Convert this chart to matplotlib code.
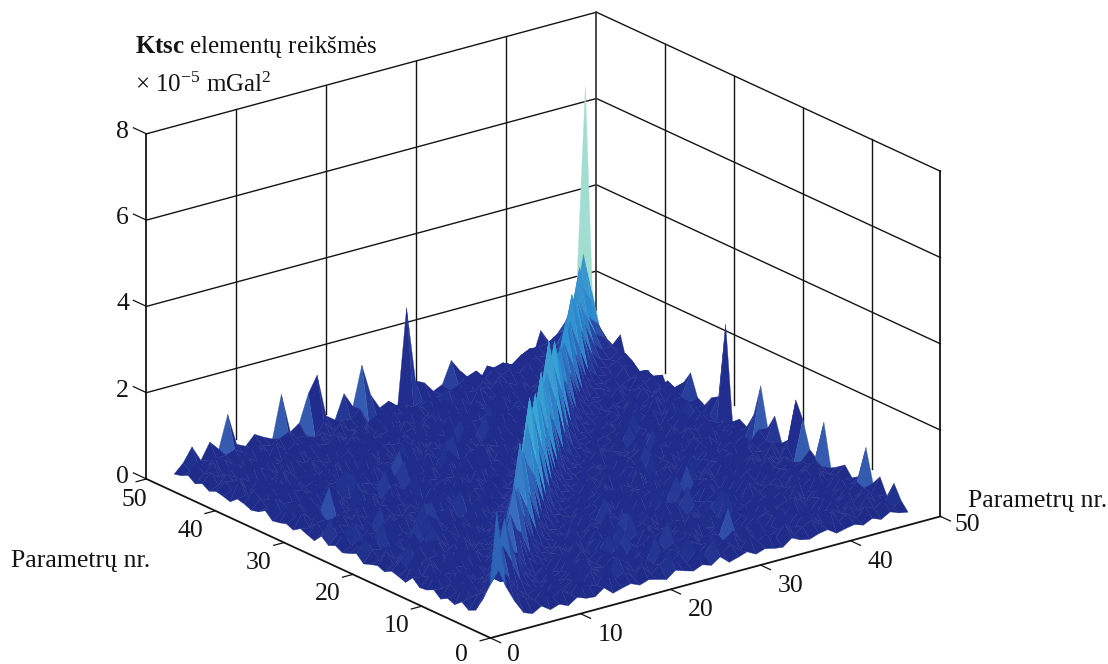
#!/usr/bin/env python3
import matplotlib
matplotlib.use("Agg")
import matplotlib.pyplot as plt
import numpy as np
from matplotlib.colors import LinearSegmentedColormap, Normalize, to_rgba
from mpl_toolkits.mplot3d import proj3d

plt.rcParams["font.family"] = ["Liberation Serif", "DejaVu Serif"]
plt.rcParams["mathtext.fontset"] = "custom"
plt.rcParams["mathtext.rm"] = "Liberation Serif"
plt.rcParams["mathtext.bf"] = "Liberation Serif:bold"
plt.rcParams["mathtext.default"] = "regular"

FIG_W, FIG_H = 1108, 664
INK = "#151314"
TICK_SIZE = 18.5

floor_ticks = [0, 10, 20, 30, 40, 50]
z_ticks = [0, 2, 4, 6, 8]
axis_label = "Parametrų nr."

# values, in 1e-7 mGal^2 (hundredths of the z axis)
ktsc_diag = [290, 140, 100, 170, 220, 130, 110, 190, 150, 230, 170, 200, 290, 180, 240, 210,
             280, 330, 220, 270, 300, 230, 260, 310, 240, 210, 270, 330, 220, 250, 290, 200,
             190, 240, 180, 220, 260, 190, 230, 280, 210, 250, 230, 290, 240, 300, 670]
ktsc_back_edge = [30, 50, 82, 45, 82, 60, 135, 60, 50, 72, 60, 50, 148, 55, 70, 132,
                  170, 70, 55, 110, 75, 165, 90, 55, 65, 45, 270, 95, 85, 60, 70, 120,
                  90, 45, 50, 85, 60, 80, 50, 60, 70, 133, 100, 110, 130, 200, 670]
ktsc_rows = [
    [110, 70, 38, 30, 42, 28, 35, 26, 40, 32, 30, 45, 27, 33, 38, 29, 36, 31, 25, 41, 34, 28, 37, 30, 44, 26, 32, 39, 28, 35, 30, 27, 43, 33, 29, 36, 40, 26, 31, 35, 28, 38, 30, 42, 34],
    [120, 75, 60, 48, 72, 44, 55, 38, 66, 50, 42, 85, 47, 58, 40, 62, 36, 52, 70, 45, 39, 60, 49, 78, 41, 54, 35, 63, 46, 57, 43, 68, 37, 50, 61, 44, 74, 40, 53, 36, 59, 47, 64, 38],
    [100, 70, 52, 64, 40, 75, 46, 58, 36, 70, 49, 44, 92, 55, 39, 61, 47, 68, 42, 52, 83, 37, 60, 45, 56, 72, 41, 50, 65, 38, 48, 59, 43, 77, 54, 35, 62, 46, 57, 40, 69, 51, 44],
    [130, 80, 58, 46, 66, 38, 55, 80, 43, 62, 48, 37, 70, 52, 60, 41, 95, 46, 56, 39, 64, 50, 74, 44, 36, 58, 68, 42, 53, 47, 86, 40, 61, 35, 55, 49, 72, 43, 59, 38, 65, 52],
    [140, 85, 62, 48, 70, 42, 58, 36, 76, 51, 45, 63, 88, 40, 54, 67, 37, 49, 60, 44, 72, 39, 56, 47, 105, 41, 52, 66, 36, 59, 46, 69, 43, 55, 38, 78, 48, 61, 42, 57, 50],
    [120, 75, 55, 68, 41, 50, 84, 38, 60, 46, 72, 53, 40, 64, 48, 36, 58, 99, 43, 55, 67, 39, 51, 74, 45, 37, 62, 49, 56, 70, 42, 83, 47, 35, 60, 52, 44, 66, 40, 54],
    [110, 70, 50, 62, 44, 74, 39, 56, 48, 66, 36, 58, 90, 43, 52, 69, 41, 47, 60, 38, 78, 50, 45, 63, 37, 55, 72, 42, 49, 58, 36, 67, 46, 53, 84, 40, 57, 44, 61],
    [135, 80, 60, 45, 70, 52, 38, 64, 47, 56, 82, 40, 51, 36, 73, 44, 59, 48, 66, 37, 54, 92, 41, 50, 62, 46, 35, 58, 75, 43, 49, 67, 38, 55, 60, 42, 70, 47],
    [130, 78, 60, 48, 58, 40, 76, 52, 37, 62, 45, 85, 43, 54, 68, 39, 50, 60, 36, 72, 47, 57, 41, 95, 44, 53, 65, 38, 49, 61, 42, 79, 46, 56, 35, 63, 51],
    [155, 90, 60, 52, 62, 44, 80, 39, 57, 48, 68, 36, 90, 46, 55, 40, 74, 50, 42, 63, 37, 59, 86, 45, 52, 66, 38, 48, 71, 43, 56, 60, 35, 77, 47, 54],
    [140, 85, 60, 50, 74, 42, 58, 37, 68, 46, 55, 88, 40, 52, 62, 36, 49, 76, 44, 60, 39, 57, 67, 47, 35, 83, 53, 41, 58, 45, 70, 38, 51, 63, 48],
    [150, 95, 65, 55, 46, 68, 40, 60, 50, 85, 38, 54, 66, 43, 72, 37, 48, 58, 95, 41, 52, 64, 36, 56, 45, 78, 39, 50, 61, 44, 69, 47, 35, 59],
    [170, 100, 65, 60, 48, 72, 44, 58, 38, 66, 52, 92, 40, 55, 46, 70, 36, 62, 50, 43, 84, 47, 57, 37, 65, 53, 41, 74, 45, 60, 39, 51, 68],
    [150, 90, 60, 54, 64, 42, 82, 48, 38, 60, 70, 45, 56, 36, 88, 50, 43, 66, 39, 58, 76, 47, 35, 62, 52, 44, 71, 40, 55, 63, 37, 49],
    [165, 95, 65, 58, 46, 68, 52, 40, 86, 44, 60, 36, 72, 50, 56, 42, 94, 38, 64, 47, 54, 35, 75, 45, 59, 67, 41, 51, 62, 37, 48],
    [170, 105, 70, 62, 50, 74, 42, 56, 66, 38, 80, 47, 53, 60, 36, 70, 44, 98, 40, 57, 49, 63, 35, 77, 52, 43, 68, 46, 58, 39],
    [190, 110, 70, 60, 70, 48, 54, 42, 78, 50, 38, 64, 56, 90, 44, 36, 72, 52, 46, 61, 40, 83, 55, 37, 66, 47, 59, 43, 69],
    [205, 115, 75, 66, 52, 74, 45, 60, 40, 84, 50, 56, 38, 70, 47, 62, 35, 96, 43, 54, 65, 41, 76, 49, 58, 36, 68, 44],
    [165, 100, 70, 58, 68, 44, 52, 72, 40, 60, 48, 88, 37, 55, 64, 42, 74, 46, 35, 57, 67, 50, 39, 80, 53, 45, 61],
    [185, 105, 70, 64, 50, 76, 46, 58, 38, 68, 54, 92, 42, 36, 62, 48, 72, 40, 56, 84, 44, 52, 35, 66, 47, 59],
    [195, 110, 75, 60, 70, 48, 42, 80, 54, 37, 64, 50, 86, 44, 58, 36, 74, 46, 62, 40, 55, 68, 38, 51, 77],
    [175, 105, 70, 66, 50, 58, 44, 74, 40, 60, 48, 98, 36, 56, 64, 42, 70, 46, 52, 35, 82, 45, 61, 38],
    [180, 110, 75, 62, 72, 46, 54, 40, 80, 50, 37, 66, 58, 44, 88, 42, 35, 60, 68, 47, 53, 75, 41],
    [200, 115, 70, 68, 52, 60, 44, 78, 38, 56, 70, 46, 94, 40, 50, 36, 64, 54, 84, 43, 59, 47],
    [170, 100, 70, 60, 72, 48, 40, 66, 52, 58, 90, 37, 62, 45, 76, 44, 55, 35, 68, 50, 63],
    [165, 100, 75, 64, 50, 78, 42, 56, 46, 70, 38, 84, 60, 48, 36, 66, 54, 72, 44, 58],
    [205, 120, 80, 70, 54, 62, 46, 82, 40, 58, 50, 100, 37, 66, 44, 74, 52, 60, 48],
    [210, 125, 80, 66, 76, 50, 58, 42, 88, 46, 62, 36, 72, 54, 80, 44, 68, 56],
    [175, 105, 70, 72, 54, 64, 46, 80, 40, 60, 96, 48, 56, 70, 38, 66, 52],
    [185, 110, 75, 68, 78, 50, 58, 44, 86, 54, 62, 40, 74, 47, 82, 60],
    [190, 115, 85, 74, 56, 66, 48, 84, 42, 60, 70, 52, 92, 46, 64],
    [160, 105, 75, 70, 80, 54, 60, 46, 74, 50, 88, 58, 66, 72],
    [160, 100, 80, 72, 58, 68, 48, 82, 52, 62, 76, 56, 84],
    [170, 110, 85, 78, 60, 70, 54, 88, 50, 66, 74, 92],
    [155, 105, 80, 74, 86, 58, 64, 52, 80, 62, 70],
    [165, 105, 78, 72, 60, 84, 56, 68, 78, 88],
    [175, 110, 85, 80, 66, 74, 58, 86, 94],
    [160, 105, 85, 78, 90, 64, 72, 84],
    [170, 110, 90, 84, 70, 92, 100],
    [190, 120, 95, 88, 98, 110],
    [175, 120, 100, 94, 108],
    [180, 130, 110, 112],
    [185, 140, 125],
    [170, 150],
    [200],
]


def build_matrix() -> np.ndarray:
    n = len(ktsc_diag)
    upper = np.zeros((n, n))
    for i, row in enumerate(ktsc_rows):
        upper[i, i + 1 : i + 1 + len(row)] = row
    upper[:, -1] = ktsc_back_edge
    upper[-1, -1] = 0
    return (upper + upper.T + np.diag(ktsc_diag)) / 100.0


def face_colors(Z: np.ndarray) -> np.ndarray:
    cmap = LinearSegmentedColormap.from_list(
        "ktsc",
        [(0.0, "#1d2a86"), (0.32, "#212e8f"), (0.41, "#2c55ae"), (0.52, "#2b8ccf"),
         (0.7, "#3fb6d8"), (0.88, "#8fd8cc"), (1.0, "#bfe6d6")],
    )
    mean_z = (Z[:-1, :-1] + Z[1:, :-1] + Z[:-1, 1:] + Z[1:, 1:]) / 4
    colors = cmap(Normalize(0, 3.7)(mean_z))
    # small facets turned to the viewer look paler in the reference
    rise = Z[1:, 1:] - Z[:-1, :-1]
    lit = np.clip((rise - 0.4) / 0.6, 0, 0.65) * (rise < 1.0)
    return colors * (1 - lit[..., None]) + np.array(to_rgba("#3f74c2")) * lit[..., None]


def to_px(ax, x, y, z):
    xs, ys, _ = proj3d.proj_transform(x, y, z, ax.get_proj())
    return ax.transData.transform((xs, ys))


def fit_axes(ax) -> None:
    # scale and shift the box so its floor corners land where the reference has them
    aspect = (566.5, 566.5, 369)
    ax.set_box_aspect(aspect, zoom=1)
    ax.apply_aspect()
    width = to_px(ax, 50, 0, 0)[0] - to_px(ax, 0, 50, 0)[0]
    ax.set_box_aspect(aspect, zoom=794 / width)
    ax.apply_aspect()
    front = to_px(ax, 0, 0, 0)
    pos = ax.get_position()
    ax.set_position([pos.x0 + (490.5 - front[0]) / FIG_W, pos.y0 + (26 - front[1]) / FIG_H, pos.width, pos.height])
    ax.apply_aspect()


def label_at(ax, text, x, y, z, dx, dy) -> None:
    xs, ys, _ = proj3d.proj_transform(x, y, z, ax.get_proj())
    ax.annotate(text, (xs, ys), xytext=(dx, -dy), textcoords="offset pixels", ha="center", va="center",
                fontsize=TICK_SIZE, color=INK, annotation_clip=False)


def main() -> None:
    fig = plt.figure(figsize=(FIG_W / 100, FIG_H / 100), dpi=100)
    ax = fig.add_axes([-0.1, -0.5, 1.2, 2.0], projection="3d", computed_zorder=False)
    ax.set_proj_type("ortho")
    ax.view_init(elev=20.7, azim=-127.4)
    ax.set_xlim(0, 50)
    ax.set_ylim(0, 50)
    ax.set_zlim(0, 8)
    ax.set_axis_off()
    ax.patch.set_alpha(0)
    fit_axes(ax)

    # back walls
    wall = dict(color=INK, linewidth=1.0, zorder=1)
    for z in z_ticks[1:]:
        ax.plot([0, 50, 50], [50, 50, 0], [z, z, z], **wall)
    for t in floor_ticks[1:-1]:
        ax.plot([t, t], [50, 50], [0.37, 8], **wall)
        ax.plot([50, 50], [t, t], [0.37, 8], **wall)
    ax.plot([50, 50], [50, 50], [1.1, 8], color="#3a3a3a", linewidth=1.3, zorder=1)

    # surface
    Z = build_matrix()
    X, Y = np.meshgrid(np.linspace(0.7, 46.4, Z.shape[1]), np.linspace(0, 46.9, Z.shape[0]))
    ax.plot_surface(X, Y, Z, facecolors=face_colors(Z), rstride=1, cstride=1,
                    linewidth=0.25, shade=False, zorder=2)

    # floor edges, uprights and ticks
    edge = dict(color=INK, linewidth=1.3, zorder=3)
    ax.plot([0, 0, 50], [50, 0, 0], [0, 0, 0], **edge)
    ax.plot([0, 0], [50, 50], [0, 8], **edge)
    ax.plot([50, 50], [0, 0], [0, 8], **edge)
    tick = dict(color=INK, linewidth=0.9, zorder=3)
    for t in floor_ticks:
        ax.plot([t, t], [0, -1.45], [0, 0], **tick)
        ax.plot([0, -1.15], [t, t], [0, 0], **tick)
    for z in z_ticks:
        ax.plot([0, 0], [50, 51.9], [z, z], **tick)

    # tick labels, offsets in pixels from the tick root
    for t in floor_ticks:
        dx, dy = {0: (23, 17), 50: (27, 9)}.get(t, (30, 21))
        label_at(ax, str(t), t, 0, 0, dx, dy)
        dx, dy = {0: (-29, 17), 50: (-12.5, 21)}.get(t, (-25, 20))
        label_at(ax, str(t), 0, t, 0, dx, dy)
    for z in z_ticks:
        label_at(ax, str(z), 0, 50, z, -24, -2)

    fig.text(11 / FIG_W, 1 - 561 / FIG_H, axis_label, fontsize=18.5, color=INK, ha="left", va="center")
    fig.text(968 / FIG_W, 1 - 501 / FIG_H, axis_label, fontsize=18.5, color=INK, ha="left", va="center")
    fig.text(135 / FIG_W, 1 - 47 / FIG_H, r"$\mathbf{Ktsc}$ elementų reikšmės", fontsize=18, color=INK,
             ha="left", va="center")
    fig.text(135 / FIG_W, 1 - 85 / FIG_H, r"× 10$^{-5}$ mGal$^{2}$", fontsize=18, color=INK,
             ha="left", va="center")

    fig.savefig("out.png", dpi=100)
    plt.close(fig)


if __name__ == "__main__":
    main()
